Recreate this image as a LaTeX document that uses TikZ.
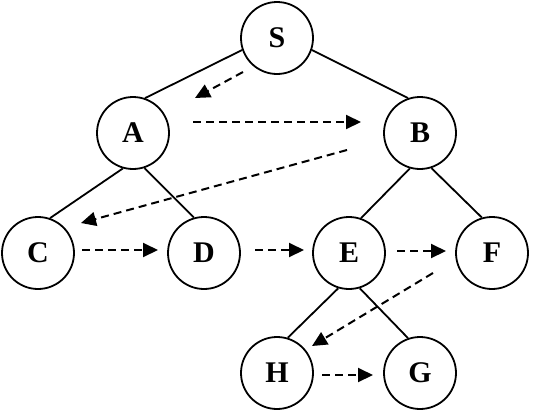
\documentclass[tikz,border=0pt]{standalone}
\usepackage{fontspec}
\setmainfont{Liberation Serif}
\usetikzlibrary{arrows.meta}
\begin{document}
\begin{tikzpicture}[x=1pt,y=-1pt,
  vtx/.style={circle,draw,line width=1.8pt,minimum size=72pt,inner sep=0pt,font=\fontsize{30}{30}\selectfont\bfseries},
  tree/.style={line width=1.8pt},
  trav/.style={line width=2pt,dash pattern=on 8pt off 5pt,-{Triangle[length=15pt,width=14pt]}}]
\useasboundingbox (0,0) rectangle (537,418);
\node[vtx] (S) at (277,38) {S};
\node[vtx] (A) at (133,133) {A};
\node[vtx] (B) at (420,133) {B};
\node[vtx] (C) at (38,253) {C};
\node[vtx] (D) at (204,253) {D};
\node[vtx] (E) at (349,253) {E};
\node[vtx] (F) at (492,253) {F};
\node[vtx] (H) at (277,373) {H};
\node[vtx] (G) at (420,373) {G};
\draw[tree] (S.199) -- (A.71);
\draw[tree] (S.341) -- (B.109);
\draw[tree] (A.254) -- (C.71);
\draw[tree] (A.288) -- (D.106);
\draw[tree] (B.254) -- (E.71);
\draw[tree] (B.288) -- (F.106);
\draw[tree] (E.253) -- (H.73);
\draw[tree] (E.287) -- (G.109);
\coordinate (t1s) at (243,72);  \coordinate (t1e) at (195,98);
\coordinate (t2s) at (193,122); \coordinate (t2e) at (361,122);
\coordinate (t3s) at (347,150); \coordinate (t3e) at (81,223);
\coordinate (t4s) at (82,250);  \coordinate (t4e) at (158,250);
\coordinate (t5s) at (255,250); \coordinate (t5e) at (304,250);
\coordinate (t6s) at (397,251); \coordinate (t6e) at (446,251);
\coordinate (t7s) at (433,273); \coordinate (t7e) at (312,346);
\coordinate (t8s) at (322,375); \coordinate (t8e) at (373,375);
\draw[trav] (t1s) -- (t1e);
\draw[trav] (t2s) -- (t2e);
\draw[trav] (t3s) -- (t3e);
\draw[trav] (t4s) -- (t4e);
\draw[trav] (t5s) -- (t5e);
\draw[trav] (t6s) -- (t6e);
\draw[trav] (t7s) -- (t7e);
\draw[trav] (t8s) -- (t8e);
\end{tikzpicture}
\end{document}
